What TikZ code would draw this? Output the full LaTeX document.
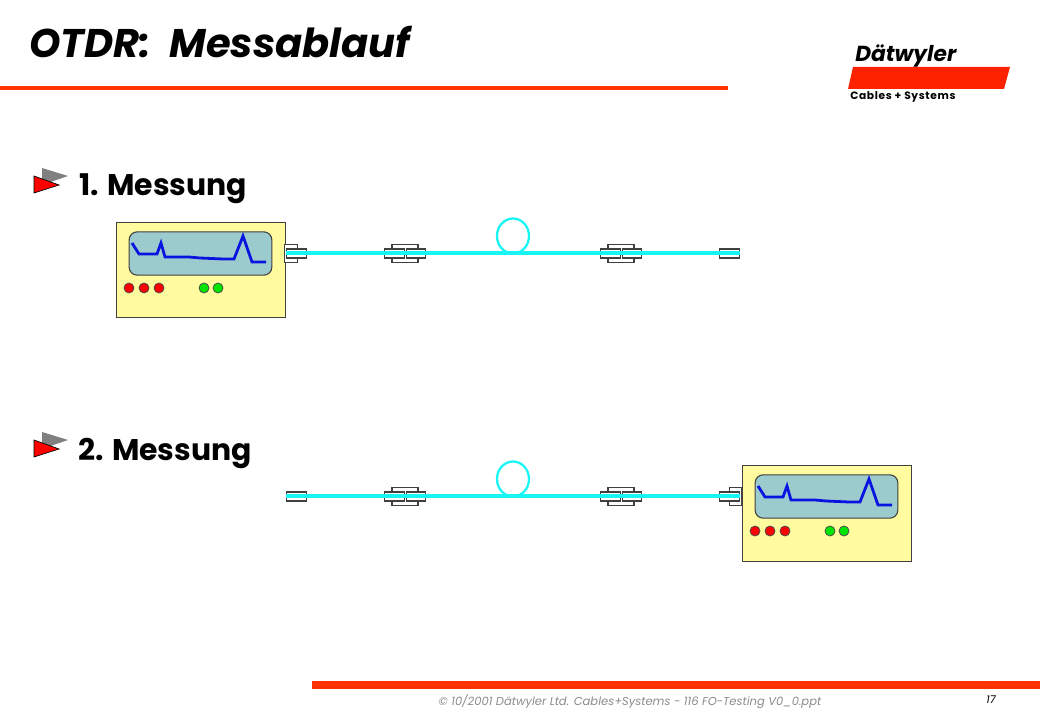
\documentclass[tikz,border=0pt]{standalone}
\usepackage{fontspec}
\setmainfont{Poppins}
\usetikzlibrary{positioning}
\definecolor{barred}{HTML}{FF3300}
\definecolor{logored}{HTML}{FF2200}
\definecolor{fibre}{HTML}{19F5F5}
\definecolor{panel}{HTML}{FFFB9E}
\definecolor{display}{HTML}{9CCBCE}
\definecolor{trace}{HTML}{0A14E0}
\tikzset{
  bar/.style={draw=none, fill=barred},
  heading/.style={anchor=base west, inner sep=0, font=\fontsize{22.4}{26}\selectfont\bfseries},
  ferrule/.style={draw=black!75, fill=white, line width=.8pt, inner sep=0, minimum width=14.5pt, minimum height=6.75pt},
  sleeve/.style={draw=black!75, fill=white, line width=.8pt, inner sep=0, minimum width=19.5pt, minimum height=13.5pt},
  port/.style={draw=black!75, fill=white, line width=.8pt, inner sep=0, minimum width=9.5pt, minimum height=13.5pt},
  fibreline/.style={draw=fibre, line width=3pt},
  led/.style={circle, draw=black!70, line width=.6pt, inner sep=0, minimum size=7.5pt},
  otdr/.pic={
    \node[draw=black!75, fill=panel, line width=.75pt, inner sep=0, minimum width=126.75pt, minimum height=71.25pt] (-box) at (84.5,47.5) {};
    \node[draw=black!75, fill=display, line width=.8pt, rounded corners=6pt, inner sep=0, minimum width=107pt, minimum height=32.5pt] (-screen) at (84.5,30.5) {};
    \draw[trace, line width=2.1pt] (16,20) -- (23,31) -- (41,31) -- (45,20) -- (49,34) -- (73,34) -- (84,35) -- (107,36) -- (118,36) -- (127,13) -- (136,39) -- (150,39);
    \foreach \x in {13,28,43} \node[led, fill=red] (-r\x) at (\x,65) {};
    \foreach \x in {88,102} \node[led, fill=green!90!black] (-g\x) at (\x,65) {};
  },
  flag/.pic={
    \fill[black!50] (8,-8) -- (34,0) -- (8,9) -- cycle;
    \draw[fill=red, line width=.5pt] (0,0) -- (25,9) -- (0,17) -- cycle;
  }
}
\begin{document}
\begin{tikzpicture}[x=.75pt, y=-.75pt]
  \useasboundingbox (0,0) rectangle (1040,720);
  \fill[white] (0,0) rectangle (1040,720);

  % head and foot
  \node[heading, font=\fontsize{30}{36}\selectfont\bfseries\itshape] (title) at (29,58) {OTDR:\ \ Messablauf};
  \fill[bar] (0,86) rectangle (728,90);
  \fill[bar] (312,681) rectangle (1040,689);
  \fill[logored] (853,67) -- (1010,67) -- (1004,89) -- (848,89) -- cycle;
  \node[anchor=base west, inner sep=0, font=\fontsize{16.3}{18}\selectfont\bfseries\itshape] (brand) at (855,62) {Dätwyler};
  \node[anchor=base west, inner sep=0, font=\fontsize{8}{9}\selectfont\bfseries\addfontfeatures{LetterSpace=6}] (division) at (850,100) {Cables + Systems};
  \node[inner sep=0, text=black!45, font=\fontsize{8.65}{10}\selectfont\itshape] (copy) at (630,702) {© 10/2001 Dätwyler Ltd. Cables+Systems - 116 FO-Testing V0\_0.ppt};
  \node[inner sep=0, font=\fontsize{8}{10}\selectfont\itshape] (page) at (991,700) {17};

  % the two measurements
  \pic at (34,176) {flag};
  \node[heading] (first) at (79,196) {1. Messung};
  \pic at (34,440) {flag};
  \node[heading] (second) at (78,460) {2. Messung};

  \foreach \row/\yy in {a/253.5, b/496.5} {
    \node[sleeve] (\row s1) at (405,\yy) {};
    \node[sleeve] (\row s2) at (621,\yy) {};
    \node[ferrule] (\row f1) at (394.5,\yy) {};
    \node[ferrule] (\row f2) at (416,\yy) {};
    \node[ferrule] (\row f3) at (610.5,\yy) {};
    \node[ferrule] (\row f4) at (632,\yy) {};
    \coordinate (\row k) at (513,\yy);
  }

  % first run, device on the left
  \pic (left) at (116,223) {otdr};
  \node[port] at (291,253.5) (aport) {};
  \node[ferrule] (astart) at (296.5,253.5) {};
  \node[ferrule] (aend) at (729.5,253.5) {};
  \draw[fibreline] (astart.west) -- (aend.east);

  % second run, device on the right
  \pic (right) at (742,466) {otdr};
  \node[port] at (735.5,496.5) (bport) {};
  \node[ferrule] (bstart) at (296.5,496.5) {};
  \node[ferrule] (bend) at (729.5,496.5) {};
  \draw[fibreline] (bstart.west) -- (bend.east);

  % spare loops
  \draw[draw=fibre, line width=1.7pt] (ak) arc[start angle=90, end angle=450, x radius=16, y radius=17.5];
  \draw[draw=fibre, line width=1.7pt] (bk) arc[start angle=90, end angle=450, x radius=16, y radius=17.5];
\end{tikzpicture}
\end{document}
